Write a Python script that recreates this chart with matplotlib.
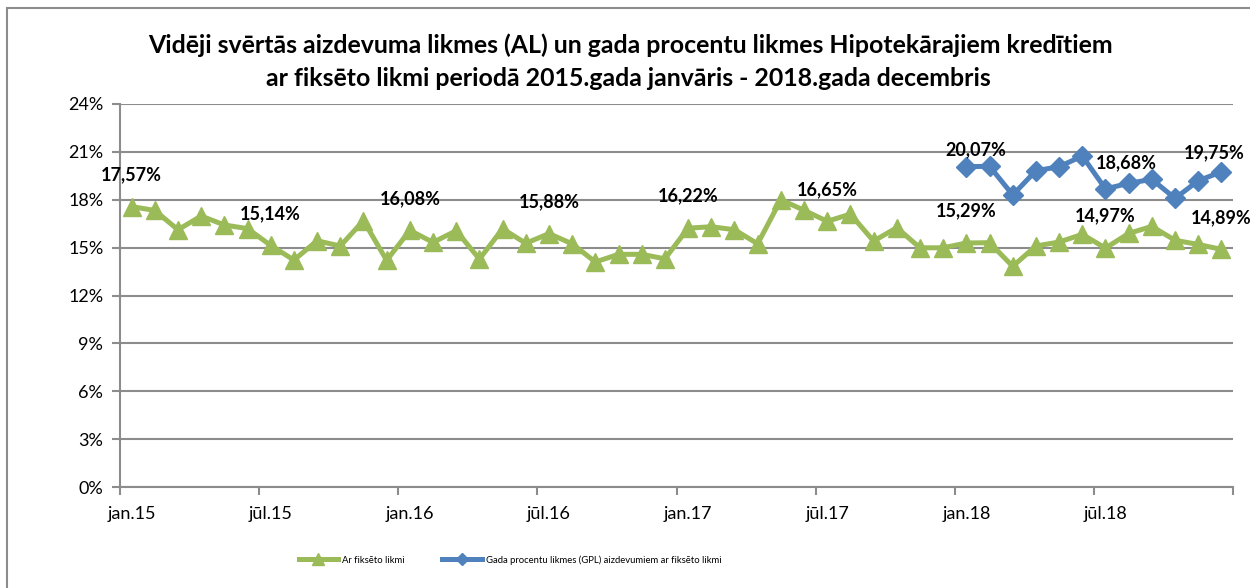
import numpy as np
import matplotlib
matplotlib.use('Agg')
import matplotlib.pyplot as plt
from matplotlib.patches import Rectangle
from matplotlib.ticker import FuncFormatter

plt.rcParams['font.family'] = ['Lato', 'DejaVu Sans']

# monthly values, jan.2015 - dec.2018 (percent)
fixed_rate = [17.57, 17.33, 16.12, 16.98, 16.42, 16.19, 15.14, 14.22, 15.43, 15.10, 16.69, 14.20,
              16.08, 15.33, 16.06, 14.28, 16.18, 15.27, 15.88, 15.24, 14.10, 14.58, 14.58, 14.30,
              16.22, 16.31, 16.12, 15.24, 18.00, 17.34, 16.65, 17.10, 15.41, 16.25, 14.99, 14.99,
              15.29, 15.31, 13.83, 15.10, 15.35, 15.83, 14.97, 15.89, 16.33, 15.46, 15.20, 14.89]
# GPL values, jan.2018 - dec.2018
gpl_rate = [20.07, 20.10, 18.30, 19.82, 20.07, 20.74, 18.68, 19.03, 19.28, 18.09, 19.19, 19.75]
gpl_start = 36

tick_labels = ['jan.15', 'jūl.15', 'jan.16', 'jūl.16', 'jan.17', 'jūl.17', 'jan.18', 'jūl.18']
labelled_fixed = [0, 6, 12, 18, 24, 30, 36, 42, 47]
labelled_gpl = [0, 6, 11]

green = '#9BBB59'
blue = '#4F81BD'
grid_gray = '#8C8C8C'

fig = plt.figure(figsize=(12.5, 5.88), dpi=100)
ax = fig.add_axes([120 / 1250, 1 - 487 / 588, (1233 - 120) / 1250, (487 - 104) / 588])

x_fixed = np.arange(len(fixed_rate))
x_gpl = np.arange(gpl_start, gpl_start + len(gpl_rate))

ax.plot(x_fixed, fixed_rate, color=green, lw=3.6, marker='^', ms=13.5,
        label='Ar fiksēto likmi', zorder=3)
ax.plot(x_gpl, gpl_rate, color=blue, lw=3.6, marker='D', ms=10,
        label='Gada procentu likmes (GPL) aizdevumiem ar fiksēto likmi', zorder=3)

def pct(v):
    return f'{v:.2f}%'.replace('.', ',')

for i in labelled_fixed:
    ax.annotate(pct(fixed_rate[i]), (x_fixed[i], fixed_rate[i]), xytext=(0, 23),
                textcoords='offset points', ha='center', va='center',
                fontsize=13, fontweight='bold')

gpl_offsets = {0: (7, 12), 6: (15, 19), 11: (-5, 14)}
for i in labelled_gpl:
    ax.annotate(pct(gpl_rate[i]), (x_gpl[i], gpl_rate[i]), xytext=gpl_offsets[i],
                textcoords='offset points', ha='center', va='center',
                fontsize=13, fontweight='bold')

ax.set_ylim(0, 24)
ax.set_yticks(np.arange(0, 25, 3))
ax.yaxis.set_major_formatter(FuncFormatter(lambda v, p: f'{v:.0f}%'))
ax.set_xlim(-0.5, len(fixed_rate) - 0.5)
ax.set_xticks(np.arange(-0.5, len(fixed_rate), 6))
ax.set_xticks(np.arange(0, len(fixed_rate), 6), minor=True)
ax.set_xticklabels([], minor=False)
ax.set_xticklabels(tick_labels, minor=True)
ax.tick_params(axis='x', which='major', length=6, width=1.5, color=grid_gray, direction='out')
ax.tick_params(axis='x', which='minor', length=0, pad=14, labelsize=13)
ax.tick_params(axis='y', length=6, width=1.5, color=grid_gray, pad=6, labelsize=13)

ax.grid(axis='y', color=grid_gray, lw=1.5)
ax.set_axisbelow(True)
for s in ['top', 'right']:
    ax.spines[s].set_visible(False)
for s in ['left', 'bottom']:
    ax.spines[s].set_color(grid_gray)
    ax.spines[s].set_linewidth(1.5)

fig.text(0.504, 1 - 45 / 588,
         'Vidēji svērtās aizdevuma likmes (AL) un gada procentu likmes Hipotekārajiem kredītiem',
         ha='center', va='center', fontsize=17.9, fontweight='bold')
fig.text(0.503, 1 - 78 / 588,
         'ar fiksēto likmi periodā 2015.gada janvāris - 2018.gada decembris',
         ha='center', va='center', fontsize=17.9, fontweight='bold')

fig.legend(loc='center', bbox_to_anchor=(0.408, 1 - 560 / 588), ncol=2, frameon=False,
           fontsize=6.8, handlelength=4.2, handletextpad=0.4, columnspacing=4,
           markerscale=0.6)

fig.patches.append(Rectangle((7 / 1250, -0.1), 1.2, 1 - 8 / 588 + 0.1, transform=fig.transFigure,
                             fill=False, edgecolor='#8C8C8C', lw=1.5))

fig.savefig('out.png', dpi=100)
